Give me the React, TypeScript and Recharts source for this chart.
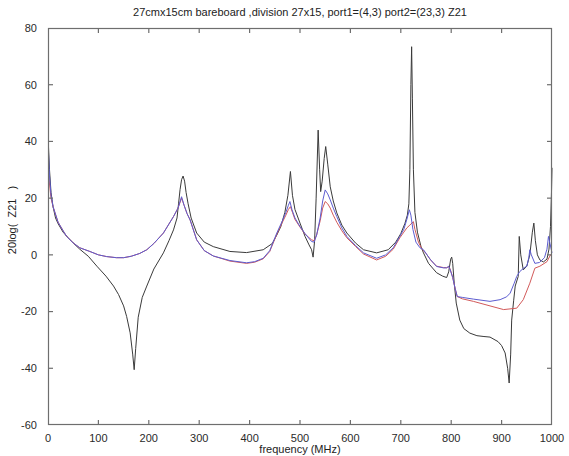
import React from "react";
import { LineChart, Line, XAxis, YAxis } from "recharts";

const xTicks = [0, 100, 200, 300, 400, 500, 600, 700, 800, 900, 1000];
const yTicks = [-60, -40, -20, 0, 20, 40, 60, 80];

const blackFreq = [1, 3, 6, 10, 15, 20, 30, 40, 50, 63, 80, 97, 115, 130, 140, 150, 156, 163, 168, 171, 174, 179, 187, 196, 210, 229, 240, 249, 256, 259, 262, 265, 268, 271, 274, 278, 284, 295, 310, 328, 361, 394, 427, 445, 454, 462, 470, 476, 481, 485, 490, 500, 510, 518, 523, 526, 529, 532, 536, 539, 541, 544, 548, 551, 555, 560, 566, 573, 583, 593, 610, 626, 652, 675, 690, 700, 708, 713, 716, 718, 720, 721.5, 723, 725, 728, 733, 740, 745, 755, 771, 783, 791, 795, 799, 801, 803, 806, 810, 817, 825, 837, 851, 865, 877, 893, 900, 907, 912, 915, 918, 920, 924, 927, 933, 935, 938, 943, 950, 956, 961, 964, 967, 971, 976, 983, 990, 994, 997, 999, 1000];
const blackVals = [38, 30, 22, 17, 13, 11, 8, 6, 4.2, 2, -0.5, -4, -7.5, -11, -14, -18, -21.7, -27.5, -35, -40.5, -33, -22, -15, -11, -5, 0.7, 5, 8.8, 13, 18, 23, 26.5, 27.8, 26, 22, 18, 13, 7.7, 4.5, 2.9, 1.2, 0.8, 1.8, 4, 7, 10, 15, 21, 29.4, 21, 16, 11.2, 6.5, 3.5, 1.8, -0.8, 5, 20, 44, 30, 22.3, 26, 34, 38.2, 32, 24, 19, 14.8, 10.5, 7.7, 4.2, 1.8, 0.7, 1.8, 4.5, 7.5, 11, 14, 18, 30, 60, 73.4, 55, 30, 15, 8, 3, 0.7, -3, -6.3, -7.5, -8, -6, -1.5, -0.8, -3, -10, -17, -23, -26, -27.6, -28.5, -28.8, -29, -30.6, -32, -34.6, -40, -45.2, -35, -23, -16, -11, -7.6, 6.5, 0, -5.3, -4, 0, 8, 11.2, 5, 0, -1.8, -2.5, -1.5, 2, 10, 22, 30.7];

const blueFreq = [1, 3, 6, 10, 20, 30, 37, 50, 63, 83, 100, 116, 136, 150, 165, 182, 196, 210, 229, 249, 258, 265, 270, 276, 282, 295, 310, 328, 361, 394, 410, 427, 440, 454, 465, 472, 477, 480, 484, 490, 500, 510, 523, 528, 533, 540, 545, 550, 555, 560, 566, 573, 583, 593, 610, 626, 652, 670, 685, 698, 706, 712, 717, 720, 724, 730, 738, 745, 758, 771, 785, 791, 795, 798, 803, 808, 812, 822, 844, 877, 897, 910, 917, 925, 930, 936, 945, 950, 954, 956, 959, 966, 975, 985, 990, 993, 996, 1000];
const blueVals = [36, 28, 21, 17, 11.5, 8.5, 6.5, 4.2, 2.5, 1.2, 0, -0.6, -1, -1, -0.5, 0.5, 1.8, 4, 7.7, 13.5, 16.5, 20.5, 17.5, 14.5, 12.3, 5.3, 1.5, -0.4, -2, -2.8, -2.4, -1.2, 1.5, 7.7, 12, 15, 17.5, 18.8, 16, 13, 10, 7.5, 4.7, 4.5, 7, 13, 19, 22.9, 21.5, 19.4, 16.5, 13.5, 9.5, 6.5, 3.3, 0.7, -1.2, 0, 2.5, 6.5, 9, 12.5, 15.9, 14, 9, 4.5, 2.5, 1.8, -1.5, -4.1, -4.6, -4.6, -4, -5.3, -8, -12, -14.7, -15, -15.6, -16.4, -15.8, -14.8, -13.5, -10, -7.6, -5.9, -4.5, -4, -1, 1.8, 0, -3, -2.7, -1, 2, 6.5, 4, 0.7];

const redFreq = [1, 3, 6, 10, 20, 30, 37, 50, 63, 83, 100, 116, 136, 150, 165, 182, 196, 210, 229, 249, 258, 265, 270, 276, 282, 295, 310, 328, 361, 394, 410, 427, 440, 454, 465, 472, 477, 481, 485, 490, 500, 510, 523, 528, 533, 540, 545, 550, 555, 560, 566, 573, 583, 593, 610, 626, 652, 670, 685, 698, 706, 712, 718, 725, 728, 735, 742, 750, 760, 771, 785, 791, 795, 798, 803, 808, 812, 822, 844, 877, 904, 930, 943, 956, 966, 976, 990, 997, 1000];
const redVals = [28, 25, 20, 17, 11.5, 8.5, 6.5, 4.2, 2.5, 1.2, 0, -0.6, -1, -1, -0.5, 0.5, 1.8, 4, 7.7, 13.5, 16.5, 20, 17.5, 14.5, 12.3, 5.3, 1.5, -0.4, -2.2, -3, -2.6, -1.4, 1.2, 7.3, 11.5, 14, 16, 17, 15, 12.5, 9.8, 7.3, 5.3, 5, 7, 12, 16.5, 18.8, 18, 16.5, 14, 11.5, 8.5, 6, 3, 0.3, -1.8, -0.5, 2, 6, 8, 9.5, 10.5, 11.7, 9, 4.5, 2, 0.5, -2, -4, -4.5, -4.5, -4.2, -5, -8, -12, -14.7, -15.5, -16.4, -18, -19.3, -18.8, -15.8, -10, -4.7, -4, -2.4, 0, 0.5];

const allFreq = Array.from(new Set([...blackFreq, ...blueFreq, ...redFreq])).sort((a, b) => a - b);
const chartData = allFreq.map((f) => {
  const row: Record<string, number | null> = { f, k: null, b: null, r: null };
  const ik = blackFreq.indexOf(f);
  const ib = blueFreq.indexOf(f);
  const ir = redFreq.indexOf(f);
  if (ik >= 0) row.k = blackVals[ik];
  if (ib >= 0) row.b = blueVals[ib];
  if (ir >= 0) row.r = redVals[ir];
  return row;
});

const FONT = "'Liberation Sans', Arial, sans-serif";
const FRAME = "#6e6e6e";
const W = 569, H = 456;
const M = { top: 28, right: 17, bottom: 1, left: 8 };
const YAXIS_W = 40, XAXIS_H = 30;
const XMIN = 0, XMAX = 1000, YMIN = -60, YMAX = 80;
const PL = M.left + YAXIS_W;
const PR = W - M.right;
const PT = M.top;
const PB = H - M.bottom - XAXIS_H;
const sx = (v: number) => PL + ((v - XMIN) / (XMAX - XMIN)) * (PR - PL);
const sy = (v: number) => PT + ((YMAX - v) / (YMAX - YMIN)) * (PB - PT);
const TL = 5;

export default function App() {
  return (
    <div style={{ position: "absolute", left: 0, top: 0, width: W, height: H, background: "#fff" }}>
      <LineChart width={W} height={H} data={chartData} margin={M}>
        <XAxis
          type="number"
          dataKey="f"
          domain={[XMIN, XMAX]}
          ticks={xTicks}
          height={XAXIS_H}
          axisLine={false}
          tickLine={false}
          tickMargin={3}
          tick={{ fill: "#2a2a2a", fontSize: 11, fontFamily: FONT }}
        />
        <YAxis
          type="number"
          domain={[YMIN, YMAX]}
          ticks={yTicks}
          width={YAXIS_W}
          axisLine={false}
          tickLine={false}
          tickMargin={5}
          tick={{ fill: "#2a2a2a", fontSize: 11, fontFamily: FONT }}
        />
        <Line dataKey="k" connectNulls type="linear" stroke="#3a3a3a" strokeWidth={1} dot={false} isAnimationActive={false} />
        <Line dataKey="r" connectNulls type="linear" stroke="#d25a5a" strokeWidth={1} dot={false} isAnimationActive={false} />
        <Line dataKey="b" connectNulls type="linear" stroke="#5c5cd0" strokeWidth={1} dot={false} isAnimationActive={false} />
      </LineChart>
      <svg width={W} height={H} style={{ position: "absolute", left: 0, top: 0, pointerEvents: "none", display: "block" }}>
        <rect x={PL + 0.5} y={PT + 0.5} width={PR - PL - 1} height={PB - PT - 1} fill="none" stroke={FRAME} strokeWidth={1.2} />
        {xTicks.slice(1, -1).map((t) => (
          <g key={"x" + t}>
            <line x1={sx(t)} x2={sx(t)} y1={PB} y2={PB - TL} stroke={FRAME} strokeWidth={1.2} />
            <line x1={sx(t)} x2={sx(t)} y1={PT} y2={PT + TL} stroke={FRAME} strokeWidth={1.2} />
          </g>
        ))}
        {yTicks.slice(1, -1).map((t) => (
          <g key={"y" + t}>
            <line x1={PL} x2={PL + TL} y1={sy(t)} y2={sy(t)} stroke={FRAME} strokeWidth={1.2} />
            <line x1={PR} x2={PR - TL} y1={sy(t)} y2={sy(t)} stroke={FRAME} strokeWidth={1.2} />
          </g>
        ))}
      </svg>
      <div style={{ position: "absolute", left: 0, width: 600, top: 6, textAlign: "center", fontSize: 11, fontFamily: FONT, color: "#222", whiteSpace: "nowrap" }}>
        27cmx15cm bareboard ,division 27x15, port1=(4,3) port2=(23,3) Z21
      </div>
      <div style={{ position: "absolute", left: 0, width: 600, top: 443, textAlign: "center", fontSize: 11, fontFamily: FONT, color: "#222", whiteSpace: "nowrap" }}>
        frequency (MHz)
      </div>
      <div style={{ position: "absolute", left: 12, top: 220, width: 0, height: 0 }}>
        <div style={{ position: "absolute", transform: "translate(-50%, -50%) rotate(-90deg)", fontSize: 11, fontFamily: FONT, color: "#222", whiteSpace: "pre" }}>
          20log(  Z21   )
        </div>
      </div>
    </div>
  );
}
